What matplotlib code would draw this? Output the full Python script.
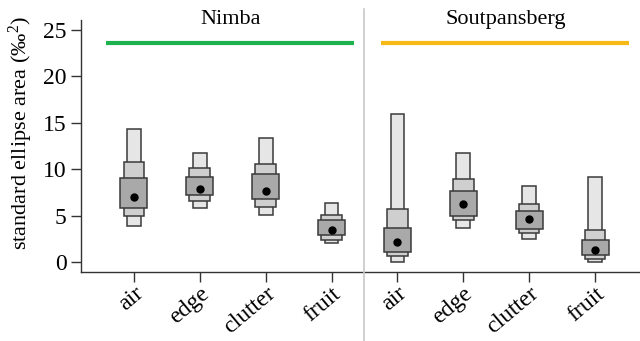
import matplotlib.pyplot as plt
from matplotlib.patches import Rectangle
from matplotlib.lines import Line2D

plt.rcParams['font.family'] = ['Liberation Serif', 'DejaVu Serif']
plt.rcParams['mathtext.fontset'] = 'custom'
plt.rcParams['mathtext.rm'] = 'Liberation Serif'
plt.rcParams['mathtext.it'] = 'Liberation Serif:italic'

# habitat categories, repeated for both sites
categories = ['air', 'edge', 'clutter', 'fruit', 'air', 'edge', 'clutter', 'fruit']
sites = ['Nimba', 'Soutpansberg']
site_colors = ['#1db24e', '#f6b916']

# credible intervals of the ellipse area (low, high): 95%, 75%, 50%
ci95_lo = [3.9, 5.8, 5.1, 2.0, 0.05, 3.7, 2.5, 0.0]
ci95_hi = [14.3, 11.7, 13.4, 6.4, 15.9, 11.8, 8.2, 9.2]
ci75_lo = [5.0, 6.6, 5.9, 2.4, 0.6, 4.5, 3.1, 0.3]
ci75_hi = [10.8, 10.1, 10.6, 5.1, 5.7, 8.9, 6.2, 3.5]
ci50_lo = [5.8, 7.2, 6.8, 2.9, 1.1, 5.0, 3.6, 0.75]
ci50_hi = [9.1, 9.2, 9.45, 4.5, 3.7, 7.6, 5.5, 2.4]
modes = [7.0, 7.9, 7.7, 3.45, 2.2, 6.25, 4.6, 1.3]

fig = plt.figure(figsize=(6.4, 3.41), dpi=100)
ax = fig.add_axes([0.1266, 0.2023, 0.8734, 0.739])

positions = list(range(1, len(categories) + 1))
levels = [
    (ci95_lo, ci95_hi, 0.21, '#e6e6e6'),
    (ci75_lo, ci75_hi, 0.31, '#cfcfcf'),
    (ci50_lo, ci50_hi, 0.41, '#a9a9a9'),
]
for x, i in zip(positions, range(len(positions))):
    for lo, hi, w, col in levels:
        ax.add_patch(Rectangle((x - w / 2, lo[i]), w, hi[i] - lo[i],
                               facecolor=col, edgecolor='#3a3a3a', lw=1.1,
                               zorder=2))
ax.plot(positions, modes, 'o', color='black', ms=5, zorder=3)

# site bars and names
for k, (name, col) in enumerate(zip(sites, site_colors)):
    x0 = 0.586 + 4.17 * k
    x1 = 4.34 + 4.18 * k
    ax.plot([x0, x1], [23.6, 23.6], color=col, lw=3, solid_capstyle='butt',
            clip_on=False)
    ax.text((x0 + x1) / 2, 26.1, name, ha='center', va='center', fontsize=16)

ax.set_xlim(0.2, 8.68)
ax.set_ylim(-1.08, 26.08)
ax.set_yticks([0, 5, 10, 15, 20, 25])
ax.set_xticks(positions)
ax.set_xticklabels(categories, rotation=40, ha='right', rotation_mode='anchor')
ax.tick_params(axis='both', labelsize=17, direction='out', length=7,
               width=1, color='#333333')
ax.tick_params(axis='x', pad=1)
ax.set_ylabel(r'standard ellipse area ($‰^2$)', fontsize=16)
ax.yaxis.set_label_coords(-0.082, 0.55)

for side in ['top', 'right']:
    ax.spines[side].set_visible(False)
for side in ['left', 'bottom']:
    ax.spines[side].set_color('#333333')
    ax.spines[side].set_linewidth(1)

# divider between the two sites
xd = ax.transData.transform((4.5, 0))[0] / fig.bbox.width
fig.add_artist(Line2D([xd, xd], [0, 1 - 9 / 341], color='#c8c8c8', lw=1.2))

fig.savefig('out.png', dpi=100)
